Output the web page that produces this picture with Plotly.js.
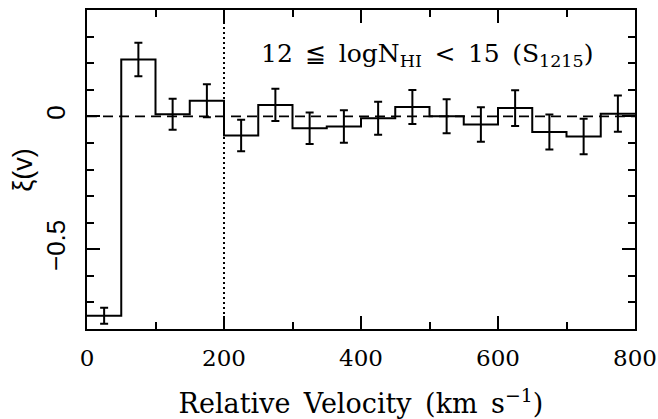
<!DOCTYPE html>
<html>
<head>
<meta charset="utf-8">
<script src="https://cdn.plot.ly/plotly-3.0.1.min.js"></script>
<style>html,body{margin:0;padding:0;background:#fff}#chart{width:658px;height:419px}</style>
</head>
<body>
<div id="chart"></div>
<script>
// Bin lower edges (km/s), bin width 50
var binLo = [0, 50, 100, 150, 200, 250, 300, 350, 400, 450, 500, 550, 600, 650, 700, 750];
var binHi = 800;
var binWidth = 50;
// Correlation function values xi(v)
var xi = [-0.750, 0.214, 0.008, 0.059, -0.072, 0.043, -0.045, -0.038, -0.007, 0.035, 0.000, -0.031, 0.031, -0.059, -0.076, 0.010];
// 1-sigma errors
var xiErr = [0.030, 0.063, 0.058, 0.062, 0.059, 0.061, 0.059, 0.061, 0.062, 0.064, 0.064, 0.065, 0.067, 0.066, 0.067, 0.068];
var vLimit = 200;
var xTicks = [0, 200, 400, 600, 800];
var yTicks = [-0.5, 0];
var yTickText = ['\u22120.5', '0'];

var stepX = binLo.concat([binHi]);
var stepY = xi.concat([xi[xi.length - 1]]);
var centers = binLo.map(function (v) { return v + binWidth / 2; });

var traces = [
  {
    x: stepX, y: stepY, type: 'scatter', mode: 'lines',
    line: {shape: 'hv', color: '#000', width: 2},
    hoverinfo: 'skip', showlegend: false
  },
  {
    x: centers, y: xi, type: 'scatter', mode: 'markers',
    marker: {size: 1, color: 'rgba(0,0,0,0)'},
    error_y: {type: 'data', array: xiErr, visible: true, color: '#000', thickness: 2, width: 4},
    showlegend: false
  }
];

var axisCommon = {
  showgrid: false, zeroline: false, showline: true, linecolor: '#000', linewidth: 2,
  mirror: 'allticks', ticks: 'inside', tickcolor: '#000', tickwidth: 2, ticklen: 13
};

var layout = {
  width: 658, height: 419,
  margin: {l: 87, r: 23, t: 10, b: 90},
  paper_bgcolor: '#fff', plot_bgcolor: '#fff',
  showlegend: false,
  xaxis: Object.assign({}, axisCommon, {
    range: [0, 800], tickvals: xTicks, ticktext: xTicks.map(String),
    tickfont: {family: 'DejaVu Serif', size: 23, color: '#000'},
    ticklabelstandoff: 7,
    minor: {dtick: 100, ticks: 'inside', ticklen: 7, tickwidth: 2, tickcolor: '#000'},
    title: {text: 'Relative\u2002Velocity\u2002(km\u2002s<sup>\u22121</sup>)', font: {family: 'DejaVu Serif', size: 27, color: '#000'}, standoff: 27}
  }),
  yaxis: Object.assign({}, axisCommon, {
    range: [-0.8, 0.4], tickvals: yTicks, ticktext: yTickText, tickangle: -90,
    tickfont: {family: 'Liberation Sans', size: 26, color: '#000'},
    ticklabelstandoff: 10,
    minor: {dtick: 0.1, ticks: 'inside', ticklen: 7, tickwidth: 2, tickcolor: '#000'}
  }),
  shapes: [
    {type: 'line', xref: 'x', yref: 'y', x0: 0, x1: 800, y0: 0, y1: 0,
     line: {color: '#000', width: 1.8, dash: '10px,6px'}},
    {type: 'line', xref: 'x', yref: 'y', x0: vLimit, x1: vLimit, y0: -0.8, y1: 0.4,
     line: {color: '#000', width: 2, dash: '2px,3px'}}
  ],
  annotations: [
    {xref: 'x', yref: 'y', x: 497, y: 0.232, showarrow: false, xanchor: 'center', yanchor: 'middle',
     text: '12\u2002\u2266\u2002logN<sub>HI</sub>\u2002<\u200215\u2002(S<sub>1215</sub>)',
     font: {family: 'DejaVu Serif', size: 25, color: '#000'}},
    {xref: 'paper', yref: 'paper', x: -0.118, y: 0.5, showarrow: false, xanchor: 'center', yanchor: 'middle',
     textangle: -90, text: '\u03be(v)',
     font: {family: 'Liberation Sans', size: 27, color: '#000'}}
  ]
};

Plotly.newPlot('chart', traces, layout, {staticPlot: true, displayModeBar: false});
</script>
</body>
</html>
